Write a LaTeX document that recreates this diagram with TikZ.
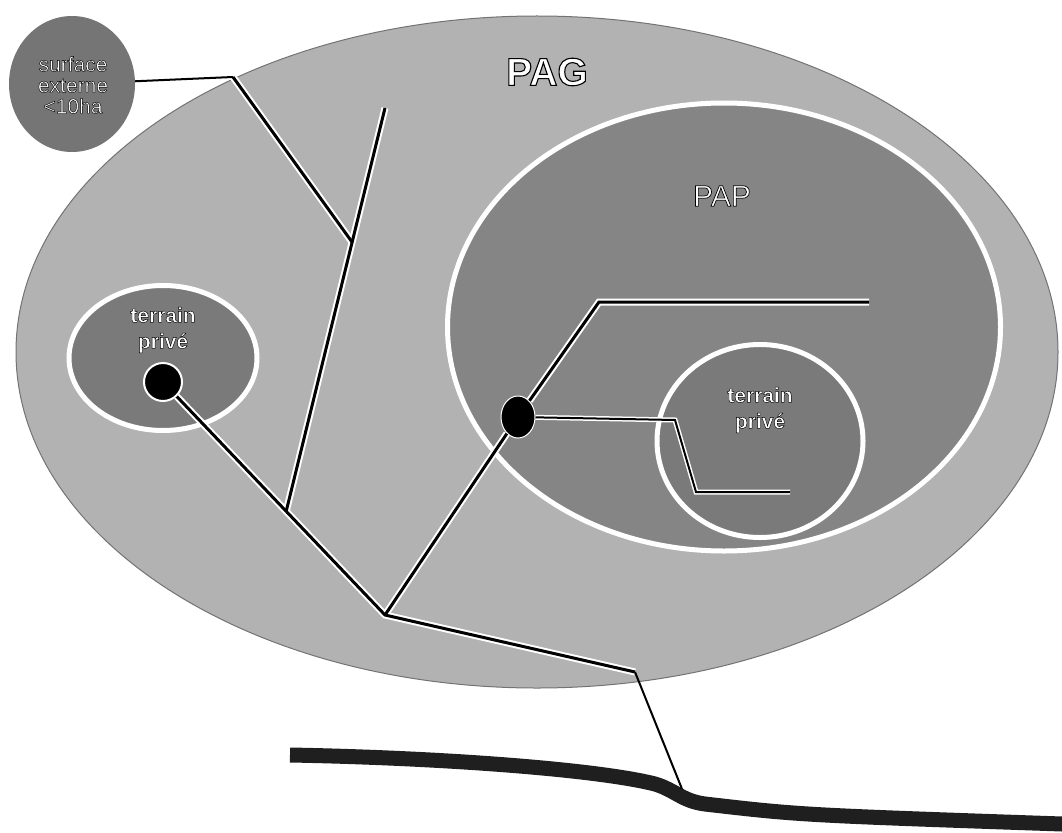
\documentclass[tikz,border=0pt]{standalone}
\usepackage{fontspec}
\setmainfont{Liberation Sans}
\usetikzlibrary{shapes.geometric}
\definecolor{pagfill}{gray}{0.70}
\definecolor{papfill}{gray}{0.52}
\definecolor{privfill}{gray}{0.48}
\definecolor{surffill}{gray}{0.46}
\definecolor{roadfill}{gray}{0.12}
% white letters with a thin dark rim
\newcommand\outl[2][0.45]{\special{pdf:code 2 Tr #1 w 0 0 0 RG}#2\special{pdf:code 0 Tr}}
\tikzset{zone/.style={ellipse, inner sep=0pt, draw=white, line width=5pt},
  lbl/.style={text=white, align=center, inner sep=0pt},
  spot/.style={ellipse, fill=black, draw=white, line width=2pt, inner sep=0pt}}

\begin{document}
\begin{tikzpicture}[x=1pt, y=-1pt]
  \useasboundingbox (0,0) rectangle (1062,832);
  % PAG and the zones inside it
  \node[ellipse, inner sep=0pt, fill=pagfill, draw=black!55, line width=1pt,
    minimum width=1042pt, minimum height=672pt] (pag) at (537,352) {};
  \node[zone, fill=privfill, minimum width=188pt, minimum height=145pt] (privL) at (163,358) {};
  \node[zone, fill=papfill, minimum width=553pt, minimum height=448pt] (pap) at (724,327) {};
  \node[zone, fill=privfill, minimum width=206pt, minimum height=193pt] (privR) at (760,441) {};
  \node[ellipse, inner sep=0pt, fill=surffill, minimum width=126pt, minimum height=136pt] (surf) at (72,84) {};
  % connection points
  \coordinate (jTop) at (233,77);
  \coordinate (jMid) at (352,242);
  \coordinate (endN) at (385,108);
  \coordinate (jLow) at (286,512);
  \coordinate (jBot) at (385,615);
  \coordinate (jOut) at (635,672);
  \coordinate (kUp) at (599,302);
  \coordinate (endE) at (869,302);
  \coordinate (kIn) at (675,420);
  \coordinate (kDown) at (696,492);
  \coordinate (endIn) at (790,492);
  \coordinate (roadpt) at (682,789);
  % connection spots
  \node[spot, minimum width=38pt, minimum height=38pt] (dotL) at (163,382) {};
  \node[spot, line width=1pt, minimum width=34pt, minimum height=42pt] (dotP) at (518,417) {};
  % road
  \draw[roadfill, line width=15pt] (290,755) .. controls (450,758) and (600,770) .. (655,784)
    .. controls (675,790) and (682,801) .. (705,804) .. controls (800,815) .. (1062,824);
  % network: white halo first, black line on top
  \foreach \pen/\wa/\wb in {white/7pt/5pt, black/3pt/2pt}{
    \draw[\pen, line width=\wb] (surf) -- (jTop);
    \draw[\pen, line width=\wa] (jTop) -- (jMid);
    \draw[\pen, line width=\wa] (endN) -- (jLow);
    \draw[\pen, line width=\wa] (dotL) -- (jBot) -- (jOut);
    \draw[\pen, line width=\wa] (dotP) -- (jBot);
    \draw[\pen, line width=\wa] (dotP) -- (kUp) -- (endE);
    \draw[\pen, line width=\wb] (dotP) -- (kIn) -- (kDown) -- (endIn);
  }
  \draw[line width=2pt] (jOut) -- (roadpt);
  % labels
  \node[lbl, font=\bfseries\fontsize{39}{40}\selectfont] (pagLbl) at (547,72) {\outl[1.1]{PAG}};
  \node[lbl, font=\fontsize{30}{32}\selectfont] (papLbl) at (722,196) {\outl[0.7]{PAP}};
  \node[lbl, font=\fontsize{21}{21}\selectfont] (surfLbl) at (73,85)
    {\outl{surface}\\\outl{externe}\\\outl{<10ha}};
  \node[lbl, font=\bfseries\fontsize{21}{26}\selectfont] (privLLbl) at (163,330)
    {\outl{terrain}\\\outl{privé}};
  \node[lbl, font=\bfseries\fontsize{21}{26}\selectfont] (privRLbl) at (760,410)
    {\outl{terrain}\\\outl{privé}};
\end{tikzpicture}
\end{document}
